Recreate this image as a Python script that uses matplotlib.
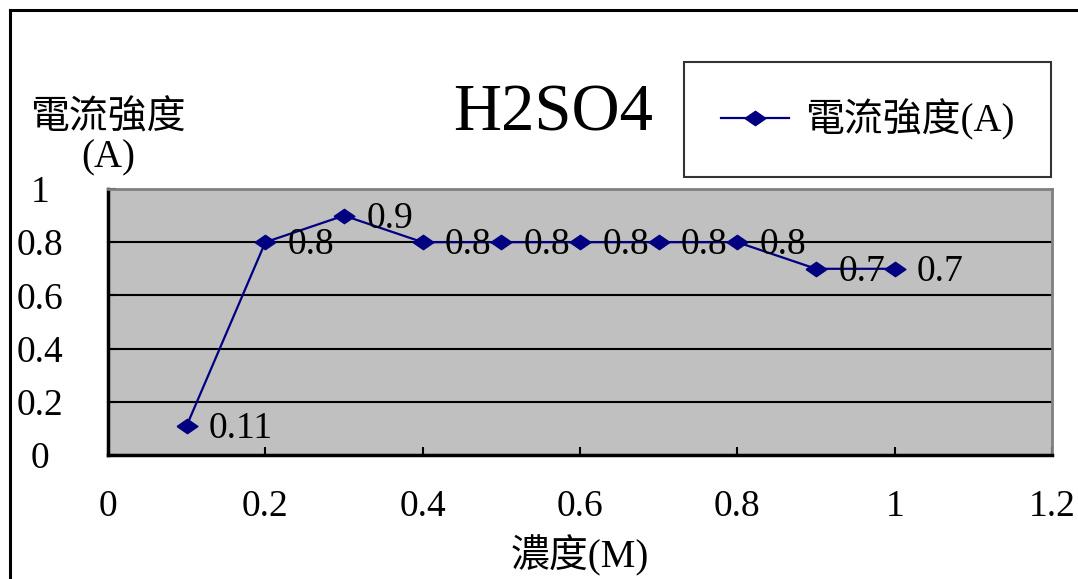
import matplotlib
matplotlib.use("Agg")
import matplotlib.pyplot as plt
from matplotlib.lines import Line2D

# Data
concentration = [0.1, 0.2, 0.3, 0.4, 0.5, 0.6, 0.7, 0.8, 0.9, 1.0]
current = [0.11, 0.8, 0.9, 0.8, 0.8, 0.8, 0.8, 0.8, 0.7, 0.7]
labels = ["0.11", "0.8", "0.9", "0.8", "0.8", "0.8", "0.8", "0.8", "0.7", "0.7"]
x_ticks = [0, 0.2, 0.4, 0.6, 0.8, 1.0, 1.2]
x_tick_labels = ["0", "0.2", "0.4", "0.6", "0.8", "1", "1.2"]
y_ticks = [0, 0.2, 0.4, 0.6, 0.8, 1.0]
y_tick_labels = ["0", "0.2", "0.4", "0.6", "0.8", "1"]
title = "H2SO4"
series_name = "電流強度(A)"
x_label = "濃度(M)"
y_label = "電流強度\n(A)"

FAM = ["Liberation Serif", "Noto Sans CJK TC", "DejaVu Sans"]
plt.rcParams["font.family"] = FAM

W, H = 1078, 579
fig = plt.figure(figsize=(W / 100, H / 100), dpi=100)
fig.patch.set_facecolor("white")

# outer chart border (left & top visible)
fig.add_artist(Line2D([10 / W, 10 / W], [0, 1 - 10 / H], transform=fig.transFigure,
                      color="black", lw=2.2))
fig.add_artist(Line2D([10 / W, 1], [1 - 10 / H, 1 - 10 / H], transform=fig.transFigure,
                      color="black", lw=2.2))

ax = fig.add_axes([108 / W, 1 - 455 / H, (1052 - 108) / W, (455 - 189) / H])
ax.set_facecolor("#C0C0C0")
ax.set_xlim(0, 1.2)
ax.set_ylim(0, 1.0)

for y in y_ticks[1:]:
    ax.axhline(y, color="black", lw=1.5, zorder=1)

diamond = [(-1.45, 0), (0, 1), (1.45, 0), (0, -1), (-1.45, 0)]
ax.plot(concentration, current, color="#000080", lw=1.6, marker=diamond,
        markersize=15, markerfacecolor="#000080", markeredgecolor="#000080",
        zorder=3, label=series_name)

for xv, yv, lb in zip(concentration, current, labels):
    ax.annotate(lb, (xv, yv), xytext=(16, -2), textcoords="offset points",
                ha="left", va="center", fontsize=27, color="black", zorder=4)

ax.set_xticks(x_ticks)
ax.set_xticklabels(x_tick_labels, fontsize=27)
ax.set_yticks(y_ticks)
ax.set_yticklabels(y_tick_labels, fontsize=27, ha="center")
ax.tick_params(axis="x", direction="in", length=6, width=1.5, pad=25)
ax.tick_params(axis="y", direction="in", length=6, width=1.5, pad=49)

for s in ["left", "bottom"]:
    ax.spines[s].set_color("black")
    ax.spines[s].set_linewidth(2.5)
for s in ["top", "right"]:
    ax.spines[s].set_color("#808080")
    ax.spines[s].set_linewidth(2)

ax.set_xlabel(x_label, fontsize=28, va="center")
ax.xaxis.set_label_coords(0.5, -0.38)
ax.set_ylabel(y_label, fontsize=28, rotation=0, ha="center", va="center",
              multialignment="center", linespacing=1.1)
ax.yaxis.set_label_coords(0.0, 1.19)

fig.text(553 / W, 1 - 114 / H, title, fontsize=48, ha="center", va="center",
         family=FAM)

leg = ax.legend(loc="upper right", bbox_to_anchor=(1051 / W, 1 - 62 / H),
                bbox_transform=fig.transFigure, fontsize=28, frameon=True,
                fancybox=False, edgecolor="black", borderpad=0.95,
                handlelength=1.75, handletextpad=0.4, borderaxespad=0)
leg.get_frame().set_linewidth(1.5)
leg.get_frame().set_facecolor("white")

fig.savefig("out.png", dpi=100)
